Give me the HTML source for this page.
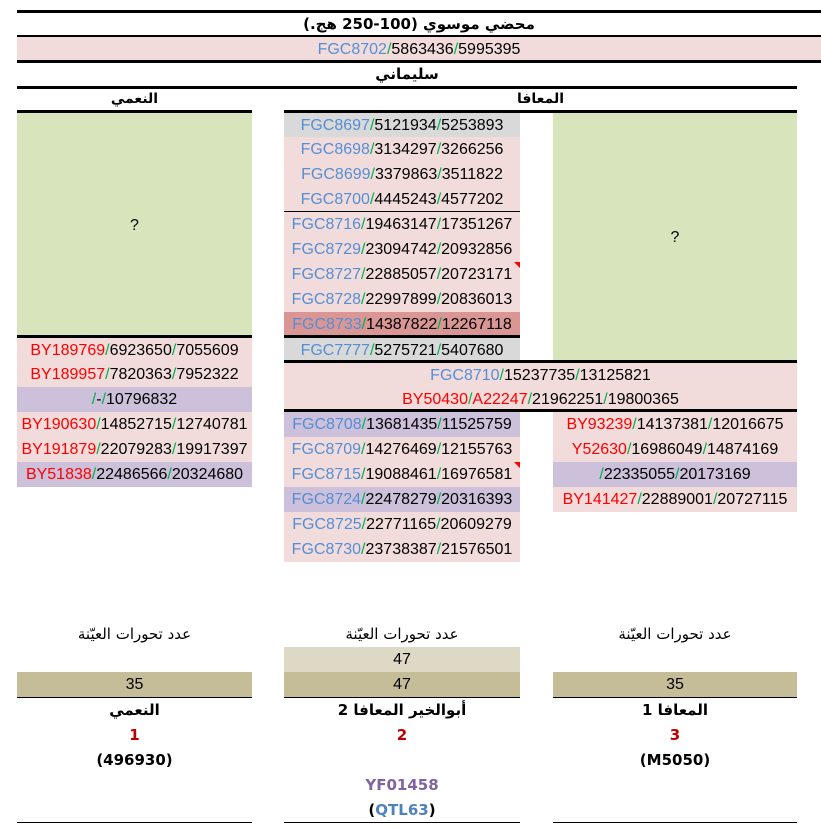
<!DOCTYPE html>
<html><head><meta charset="utf-8"><style>
body{margin:0;width:821px;height:828px;background:#fff;position:relative;overflow:hidden;font-family:"Liberation Sans","Noto Sans CJK SC",sans-serif;}
.r{position:absolute;height:25px;line-height:25px;text-align:center;font-size:16px;color:#000;white-space:nowrap;}
.b{color:#558ed5}.g{color:#00b050}.rd{color:#ff0000}
.L{position:absolute;background:#000;}
.pk{background:#f2dcdb}.gr{background:#d9d9d9}.pu{background:#ccc0da}.dr{background:#da9694}
.ar{font-family:"DejaVu Sans",sans-serif;font-weight:bold;font-size:15px;}
.tri{position:absolute;width:0;height:0;border-top:6px solid #f00;border-left:6px solid transparent;}
</style></head><body>
<div class="L" style="left:17px;top:10px;width:804px;height:3px"></div>
<div class="r ar" style="left:17px;top:12px;width:804px">محضي موسوي (100-250 هج.)</div>
<div class="L" style="left:17px;top:35px;width:804px;height:3px"></div>
<div class="r pk" style="left:17px;top:37px;width:804px;height:24px"><span class="b">FGC8702</span><span class="g">/</span>5863436<span class="g">/</span>5995395</div>
<div class="L" style="left:17px;top:60px;width:804px;height:3px"></div>
<div class="r ar" style="left:17px;top:62px;width:780px">سليماني</div>
<div class="L" style="left:17px;top:86px;width:780px;height:3px"></div>
<div class="r ar" style="left:17px;top:87px;width:235px;font-size:14px">النعمي</div>
<div class="r ar" style="left:284px;top:87px;width:513px;font-size:14px">المعافا</div>
<div class="L" style="left:17px;top:110px;width:235px;height:3px"></div>
<div class="L" style="left:284px;top:110px;width:513px;height:3px"></div>

<div class="r" style="left:17px;top:113px;width:235px;height:222px;line-height:226px;background:#d8e4bc">?</div>
<div class="r" style="left:553px;top:113px;width:244px;height:248px;line-height:250px;background:#d8e4bc">?</div>

<div class="r gr" style="left:284px;top:113px;width:236px"><span class="b">FGC8697</span><span class="g">/</span>5121934<span class="g">/</span>5253893</div>
<div class="r pk" style="left:284px;top:137px;width:236px"><span class="b">FGC8698</span><span class="g">/</span>3134297<span class="g">/</span>3266256</div>
<div class="r pk" style="left:284px;top:162px;width:236px"><span class="b">FGC8699</span><span class="g">/</span>3379863<span class="g">/</span>3511822</div>
<div class="r pk" style="left:284px;top:187px;width:236px"><span class="b">FGC8700</span><span class="g">/</span>4445243<span class="g">/</span>4577202</div>
<div class="L" style="left:284px;top:211px;width:236px;height:1px"></div>
<div class="r pk" style="left:284px;top:212px;width:236px"><span class="b">FGC8716</span><span class="g">/</span>19463147<span class="g">/</span>17351267</div>
<div class="r pk" style="left:284px;top:237px;width:236px"><span class="b">FGC8729</span><span class="g">/</span>23094742<span class="g">/</span>20932856</div>
<div class="r pk" style="left:284px;top:262px;width:236px"><span class="b">FGC8727</span><span class="g">/</span>22885057<span class="g">/</span>20723171</div>
<div class="tri" style="left:514px;top:262px"></div>
<div class="r pk" style="left:284px;top:287px;width:236px"><span class="b">FGC8728</span><span class="g">/</span>22997899<span class="g">/</span>20836013</div>
<div class="r dr" style="left:284px;top:312px;width:236px"><span class="b">FGC8733</span><span class="g">/</span>14387822<span class="g">/</span>12267118</div>
<div class="L" style="left:17px;top:335px;width:235px;height:3px"></div>
<div class="L" style="left:284px;top:335px;width:236px;height:3px"></div>
<div class="r gr" style="left:284px;top:338px;width:236px;height:23px"><span class="b">FGC7777</span><span class="g">/</span>5275721<span class="g">/</span>5407680</div>
<div class="L" style="left:284px;top:360px;width:513px;height:3px"></div>
<div class="r pk" style="left:284px;top:363px;width:513px"><span class="b">FGC8710</span><span class="g">/</span>15237735<span class="g">/</span>13125821</div>
<div class="r pk" style="left:284px;top:387px;width:513px;height:23px"><span class="rd">BY50430</span><span class="g">/</span><span class="rd">A22247</span><span class="g">/</span>21962251<span class="g">/</span>19800365</div>
<div class="L" style="left:284px;top:409px;width:513px;height:3px"></div>

<div class="r pu" style="left:284px;top:412px;width:236px"><span class="b">FGC8708</span><span class="g">/</span>13681435<span class="g">/</span>11525759</div>
<div class="r pk" style="left:284px;top:437px;width:236px"><span class="b">FGC8709</span><span class="g">/</span>14276469<span class="g">/</span>12155763</div>
<div class="r pk" style="left:284px;top:462px;width:236px"><span class="b">FGC8715</span><span class="g">/</span>19088461<span class="g">/</span>16976581</div>
<div class="tri" style="left:514px;top:462px"></div>
<div class="r pu" style="left:284px;top:487px;width:236px"><span class="b">FGC8724</span><span class="g">/</span>22478279<span class="g">/</span>20316393</div>
<div class="r pk" style="left:284px;top:512px;width:236px"><span class="b">FGC8725</span><span class="g">/</span>22771165<span class="g">/</span>20609279</div>
<div class="r pk" style="left:284px;top:537px;width:236px"><span class="b">FGC8730</span><span class="g">/</span>23738387<span class="g">/</span>21576501</div>

<div class="r pk" style="left:17px;top:338px;width:235px;height:24px"><span class="rd">BY189769</span><span class="g">/</span>6923650<span class="g">/</span>7055609</div>
<div class="r pk" style="left:17px;top:362px;width:235px"><span class="rd">BY189957</span><span class="g">/</span>7820363<span class="g">/</span>7952322</div>
<div class="r pu" style="left:17px;top:387px;width:235px"><span class="g">/</span>-<span class="g">/</span>10796832</div>
<div class="r pk" style="left:17px;top:412px;width:235px"><span class="rd">BY190630</span><span class="g">/</span>14852715<span class="g">/</span>12740781</div>
<div class="r pk" style="left:17px;top:437px;width:235px"><span class="rd">BY191879</span><span class="g">/</span>22079283<span class="g">/</span>19917397</div>
<div class="r pu" style="left:17px;top:462px;width:235px"><span class="rd">BY51838</span><span class="g">/</span>22486566<span class="g">/</span>20324680</div>

<div class="r pk" style="left:553px;top:412px;width:244px"><span class="rd">BY93239</span><span class="g">/</span>14137381<span class="g">/</span>12016675</div>
<div class="r pk" style="left:553px;top:437px;width:244px"><span class="rd">Y52630</span><span class="g">/</span>16986049<span class="g">/</span>14874169</div>
<div class="r pu" style="left:553px;top:462px;width:244px"><span class="g">/</span>22335055<span class="g">/</span>20173169</div>
<div class="r pk" style="left:553px;top:487px;width:244px"><span class="rd">BY141427</span><span class="g">/</span>22889001<span class="g">/</span>20727115</div>

<div class="r" style="left:17px;top:622px;width:235px;font-family:'DejaVu Sans',sans-serif;font-size:15px">عدد تحورات العيّنة</div>
<div class="r" style="left:284px;top:622px;width:236px;font-family:'DejaVu Sans',sans-serif;font-size:15px">عدد تحورات العيّنة</div>
<div class="r" style="left:553px;top:622px;width:244px;font-family:'DejaVu Sans',sans-serif;font-size:15px">عدد تحورات العيّنة</div>
<div class="r" style="left:284px;top:647px;width:236px;background:#ddd9c4">47</div>
<div class="r" style="left:17px;top:672px;width:235px;background:#c4bd97">35</div>
<div class="r" style="left:284px;top:672px;width:236px;background:#c4bd97">47</div>
<div class="r" style="left:553px;top:672px;width:244px;background:#c4bd97">35</div>
<div class="L" style="left:17px;top:697px;width:235px;height:1px"></div>
<div class="L" style="left:284px;top:697px;width:236px;height:1px"></div>
<div class="L" style="left:553px;top:697px;width:244px;height:1px"></div>

<div class="r ar" style="left:17px;top:698px;width:235px">النعمي</div>
<div class="r ar" style="left:284px;top:698px;width:236px">أبوالخير المعافا 2</div>
<div class="r ar" style="left:553px;top:698px;width:244px">المعافا 1</div>
<div class="r ar" style="left:17px;top:723px;width:235px;color:#c00000">1</div>
<div class="r ar" style="left:284px;top:723px;width:236px;color:#c00000">2</div>
<div class="r ar" style="left:553px;top:723px;width:244px;color:#c00000">3</div>
<div class="r ar" style="left:17px;top:748px;width:235px">(496930)</div>
<div class="r ar" style="left:553px;top:748px;width:244px">(M5050)</div>
<div class="r ar" style="left:284px;top:773px;width:236px;color:#8064a2">YF01458</div>
<div class="r ar" style="left:284px;top:798px;width:236px">(<span style="color:#4f81bd">QTL63</span>)</div>
<div class="L" style="left:17px;top:822px;width:235px;height:1px"></div>
<div class="L" style="left:284px;top:822px;width:236px;height:1px"></div>
<div class="L" style="left:553px;top:822px;width:244px;height:1px"></div>
</body></html>
